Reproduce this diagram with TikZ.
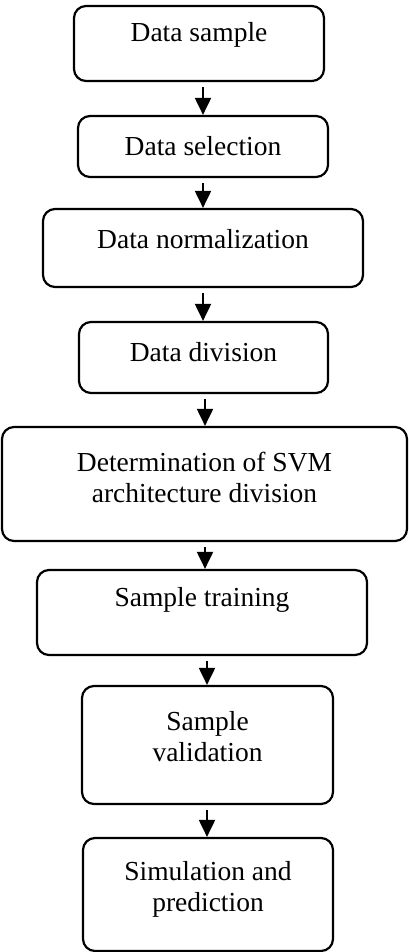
\documentclass[tikz,border=0pt]{standalone}
\usepackage{fontspec}
\setmainfont{Liberation Serif}
\usetikzlibrary{arrows.meta,positioning}
\tikzset{
  box/.style={draw=black,line width=2.2pt,rounded corners=12pt,inner sep=0pt},
  lbl/.style={align=center,inner sep=0pt,font=\fontsize{27.5}{31}\selectfont},
  ar/.style={-{Triangle[length=17pt,width=16pt]},line width=2pt}
}
\begin{document}
\begin{tikzpicture}[x=1pt,y=-1pt]
\useasboundingbox (0,0) rectangle (409,952);
% boxes
\node[box,minimum width=250pt,minimum height=75pt] (b1) at (199,43.5) {};
\node[box,minimum width=250pt,minimum height=61pt] (b2) at (203,146.5) {};
\node[box,minimum width=320pt,minimum height=78pt] (b3) at (203,248) {};
\node[box,minimum width=249pt,minimum height=71pt] (b4) at (203.5,357.5) {};
\node[box,minimum width=405pt,minimum height=114pt] (b5) at (204.5,484) {};
\node[box,minimum width=330pt,minimum height=85pt] (b6) at (202,612.5) {};
\node[box,minimum width=251pt,minimum height=118pt] (b7) at (207.5,745) {};
\node[box,minimum width=250pt,minimum height=113pt] (b8) at (208,894.5) {};
% texts
\node[lbl] (t1) at (199,35) {Data sample};
\node[lbl] (t2) at (203,146) {Data selection};
\node[lbl] (t3) at (203,239) {Data normalization};
\node[lbl] (t4) at (203.5,352) {Data division};
\node[lbl] (t5) at (204.5,477.5) {Determination of SVM\\architecture division};
\node[lbl] (t6) at (202,600) {Sample training};
\node[lbl] (t7) at (207.5,737) {Sample\\validation};
\node[lbl] (t8) at (208,889) {Simulation and\\prediction};
% arrows
\foreach \a/\b/\x in {b1/b2/203,b2/b3/203,b3/b4/203,b4/b5/205,b5/b6/205,b6/b7/207,b7/b8/207}{
  \coordinate (s) at (\x,0 |- \a.south);
  \draw[ar] ([yshift=-5pt]s) -- (s |- \b.north);
}
\end{tikzpicture}
\end{document}
